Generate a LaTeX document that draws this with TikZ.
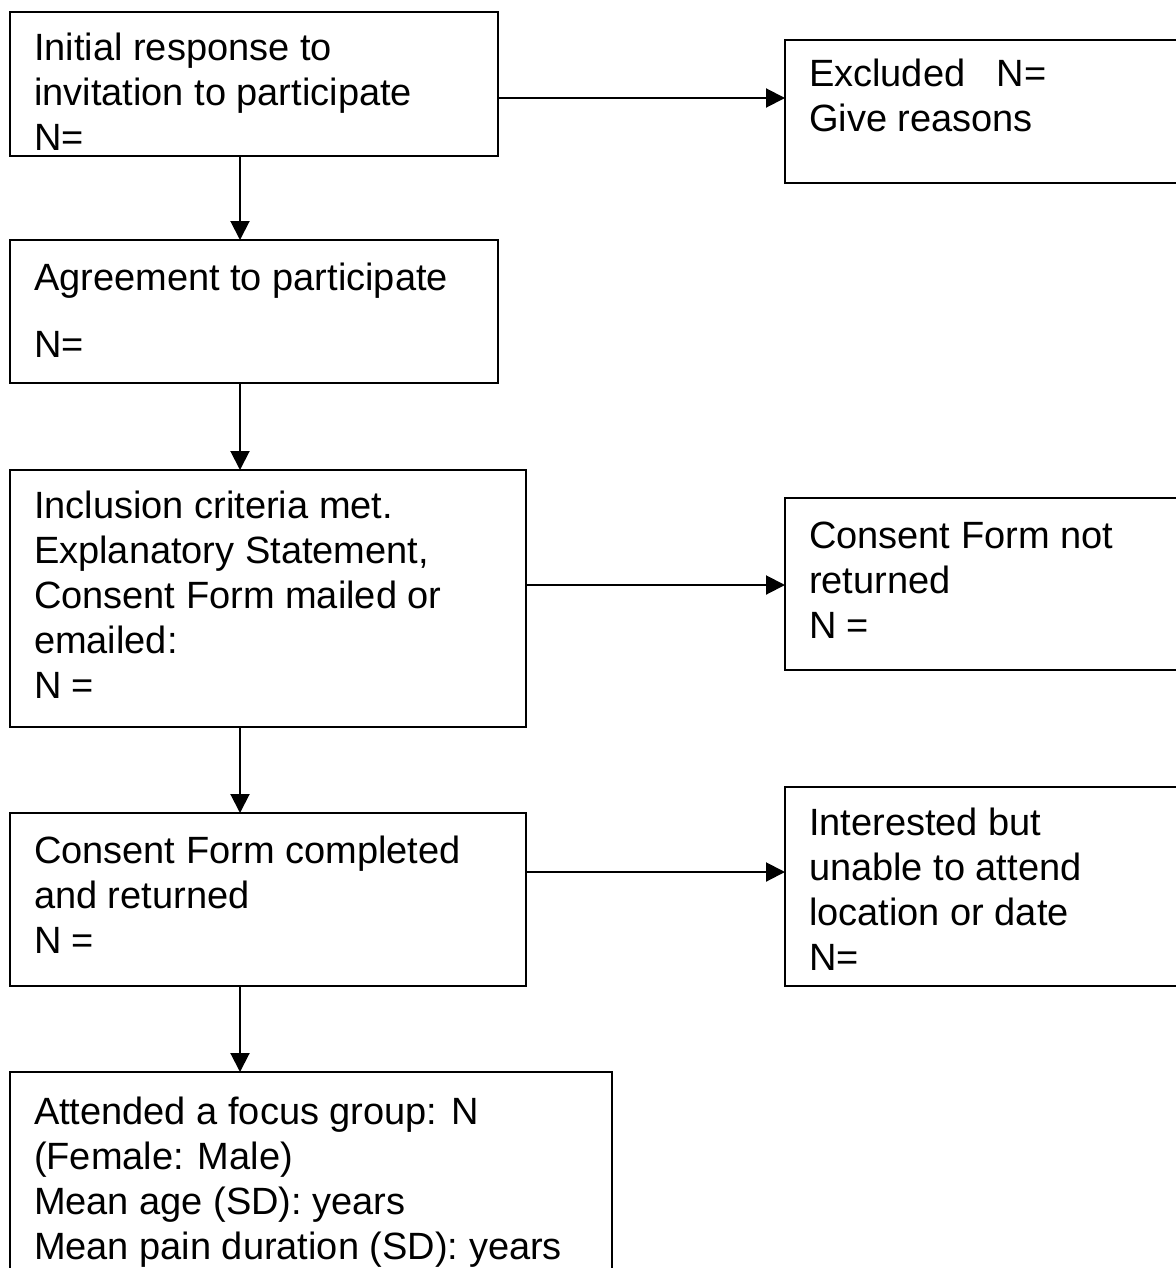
\documentclass[tikz,border=0pt]{standalone}
\usepackage{fontspec}
\setmainfont{Liberation Sans}
\usetikzlibrary{calc, arrows.meta}

% box content: width, height, first baseline, text
\newcommand{\boxtext}[4]{\parbox[c][#2][t]{#1}{\raggedright\rule{0pt}{#3}#4}}

\begin{document}
\begin{tikzpicture}[x=0.5pt, y=-0.5pt, >={Triangle[length=9.5pt,width=9.5pt]},
    box/.style={draw, line width=1pt, inner xsep=12pt, inner ysep=0pt, outer sep=0pt,
        anchor=north west, font=\fontsize{19}{22.5}\selectfont},
    arr/.style={->, line width=1pt}]
    \useasboundingbox (0,0) rectangle (1176,1268);

    % left column
    \node[box] (init) at (10,12.5) {\boxtext{220pt}{71.5pt}{24pt}{Initial response to\\invitation to participate\\N=}};
    \node[box] (agree) at (10,240) {\boxtext{220pt}{71.5pt}{25pt}{Agreement to participate\\[11pt]N=}};
    \node[box] (incl) at (10,470) {\boxtext{234pt}{128.5pt}{24pt}{Inclusion criteria met.\\Explanatory Statement,\\Consent Form mailed or\\emailed:\\N =}};
    \node[box] (compl) at (10,813) {\boxtext{234pt}{86.5pt}{25pt}{Consent Form completed\\and returned\\N =}};
    \node[box] (attend) at (10,1072) {\boxtext{277pt}{109pt}{26pt}{Attended a focus group: N\\(Female: Male)\\Mean age (SD): years\\Mean pain duration (SD): years}};

    % right column
    \node[box] (excl) at (785,40) {\boxtext{178.5pt}{71.5pt}{23.5pt}{Excluded\ \ \ N=\\Give reasons}};
    \node[box] (notret) at (785,498) {\boxtext{178.5pt}{86pt}{25pt}{Consent Form not\\returned\\N =}};
    \node[box] (unable) at (785,787) {\boxtext{178.5pt}{99.5pt}{24pt}{Interested but\\unable to attend\\location or date\\N=}};

    \draw[arr] ($(init.south west)+(230,0)$) -- ($(agree.north west)+(230,0)$);
    \draw[arr] ($(agree.south west)+(230,0)$) -- ($(incl.north west)+(230,0)$);
    \draw[arr] ($(incl.south west)+(230,0)$) -- ($(compl.north west)+(230,0)$);
    \draw[arr] ($(compl.south west)+(230,0)$) -- ($(attend.north west)+(230,0)$);

    \draw[arr] ($(init.north east)+(0,85.5)$) -- ($(excl.north west)+(0,58)$);
    \draw[arr] ($(incl.north east)+(0,115)$) -- ($(notret.north west)+(0,87)$);
    \draw[arr] ($(compl.north east)+(0,59)$) -- ($(unable.north west)+(0,85)$);
\end{tikzpicture}
\end{document}
